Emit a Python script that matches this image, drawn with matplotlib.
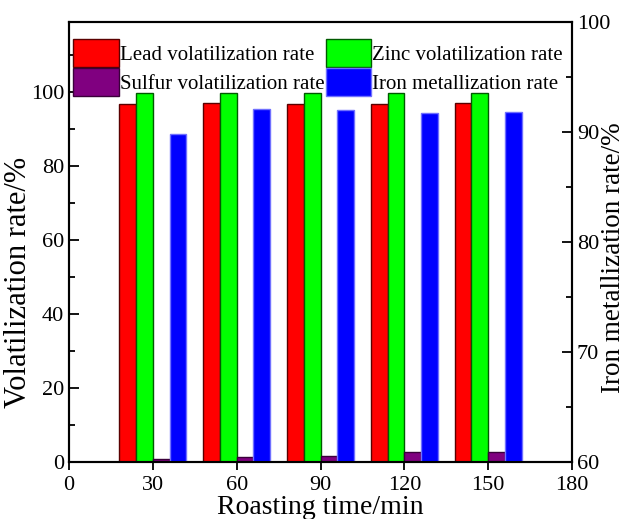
import numpy as np
import matplotlib
matplotlib.use("Agg")
import matplotlib.pyplot as plt
from matplotlib.ticker import MultipleLocator

plt.rcParams['font.family'] = ['Liberation Serif', 'DejaVu Serif']

times = [30, 60, 90, 120, 150]
lead = [96.8, 97.1, 96.8, 96.9, 97.2]
zinc = [99.9, 99.9, 99.9, 99.9, 99.9]
sulfur = [0.8, 1.3, 1.6, 2.8, 2.8]
iron = [89.8, 92.1, 92.0, 91.7, 91.8]

x = np.array(times, dtype=float)
w = 6

fig = plt.figure(figsize=(6.27, 5.19), dpi=100)
ax = fig.add_axes([69/627, 57/519, 503/627, 440/519])
ax2 = ax.twinx()

b1 = ax.bar(x - 12, lead, w, align='edge', color='#ff0000', edgecolor='#5a0000', linewidth=1,
            label='Lead volatilization rate')
b2 = ax.bar(x - 6, zinc, w, align='edge', color='#00ff00', edgecolor='#005a00', linewidth=1,
            label='Zinc volatilization rate')
b3 = ax.bar(x, sulfur, w, align='edge', color='#800080', edgecolor='#3a003a', linewidth=1,
            label='Sulfur volatilization rate')
b4 = ax2.bar(x + 6, iron, w, align='edge', color='#0000ff', edgecolor='#7070ff', linewidth=1,
             label='Iron metallization rate')

ax.set_xlim(0, 180)
ax.set_ylim(0, 119)
ax2.set_ylim(60, 100)
ax.set_xticks([0, 30, 60, 90, 120, 150, 180])
ax.yaxis.set_major_locator(MultipleLocator(20))
ax.yaxis.set_minor_locator(MultipleLocator(10))
ax2.yaxis.set_major_locator(MultipleLocator(10))
ax2.yaxis.set_minor_locator(MultipleLocator(5))

for a in (ax, ax2):
    for s in a.spines.values():
        s.set_linewidth(1.5)
ax.tick_params(axis='x', direction='out', length=6, width=1.3, labelsize=16, pad=4)
ax.tick_params(axis='y', which='major', direction='in', length=7, width=1.3, labelsize=16)
ax.tick_params(axis='y', which='minor', direction='in', length=4, width=1.3)
ax2.tick_params(axis='y', which='major', direction='in', length=7, width=1.3, labelsize=16)
ax2.tick_params(axis='y', which='minor', direction='in', length=4, width=1.3)

ax.set_xlabel('Roasting time/min', fontsize=20, labelpad=0)
ax.set_ylabel('Volatilization rate/%', fontsize=22)
ax2.set_ylabel('Iron metallization rate/%', fontsize=19.5)
# label anchors (pixels -> axes fraction)
ax.yaxis.set_label_coords(-36/503, (462 - 282)/440)
ax2.yaxis.set_label_coords(1 + 29/503, (462 - 258)/440)

fig.legend(handles=[b1, b3, b2, b4], ncol=2, loc='upper left',
           bbox_to_anchor=(73/627, 1 - 39/519), frameon=False, fontsize=15,
           handlelength=2.2, handleheight=1.7, handletextpad=0.05,
           columnspacing=0.05, labelspacing=0.05, borderpad=0, borderaxespad=0)

fig.savefig('out.png', dpi=100)
